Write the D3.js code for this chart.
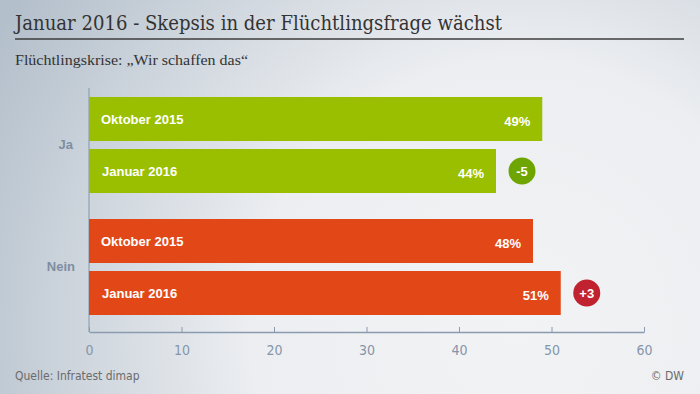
<!DOCTYPE html>
<html>
<head>
<meta charset="utf-8">
<script src="https://cdn.jsdelivr.net/npm/d3@7"></script>
<style>
  body { margin: 0; padding: 0; }
  svg { display: block; }
</style>
</head>
<body>
<svg id="chart" width="700" height="394"></svg>
<script>
// chart data
const groups = ["Ja", "Nein"];
const periods = ["Oktober 2015", "Januar 2016"];
const jaValues = [49, 44];
const neinValues = [48, 51];
const changes = ["-5", "+3"];
const xTicks = [0, 10, 20, 30, 40, 50, 60];

const svg = d3.select("#chart");
const W = 700, H = 394;

// background gradient
const defs = svg.append("defs");
const grad = defs.append("radialGradient")
    .attr("id", "bg")
    .attr("gradientUnits", "userSpaceOnUse")
    .attr("cx", 520).attr("cy", 330).attr("r", 600);
grad.append("stop").attr("offset", "0%").attr("stop-color", "#f2f3f5");
grad.append("stop").attr("offset", "45%").attr("stop-color", "#eceef1");
grad.append("stop").attr("offset", "100%").attr("stop-color", "#b3bfcb");
svg.append("rect")
    .attr("width", W).attr("height", H)
    .attr("fill", "url(#bg)");

// title
svg.append("text")
    .attr("x", 15).attr("y", 30)
    .attr("font-family", "'DejaVu Serif', 'Liberation Serif', serif")
    .attr("font-size", 20)
    .attr("fill", "#333")
    .attr("textLength", 487)
    .attr("lengthAdjust", "spacingAndGlyphs")
    .text("Januar 2016 - Skepsis in der Flüchtlingsfrage wächst");

svg.append("line")
    .attr("x1", 15).attr("x2", 684)
    .attr("y1", 39).attr("y2", 39)
    .attr("stroke", "#3c3c3c")
    .attr("stroke-width", 1.5);

svg.append("text")
    .attr("x", 15).attr("y", 65)
    .attr("font-family", "'Liberation Serif', serif")
    .attr("font-size", 14.5)
    .attr("fill", "#333")
    .attr("textLength", 233)
    .attr("lengthAdjust", "spacingAndGlyphs")
    .text("Flüchtlingskrise: „Wir schaffen das“");

// scales
const x = d3.scaleLinear().domain([0, 60]).range([89, 644]);

const rows = [
    {group: "Ja", period: periods[0], value: jaValues[0], color: "#99bf00"},
    {group: "Ja", period: periods[1], value: jaValues[1], color: "#99bf00", change: changes[0], cColor: "#6ea500"},
    {group: "Nein", period: periods[0], value: neinValues[0], color: "#e24817"},
    {group: "Nein", period: periods[1], value: neinValues[1], color: "#e24817", change: changes[1], cColor: "#c0222f"}
];

const yGroup = d3.scaleBand().domain(groups).range([84, 328]).paddingInner(26 / 122).paddingOuter(13 / 122);
const yInner = d3.scaleBand().domain(periods).range([0, yGroup.bandwidth()]).paddingInner(8 / 52).paddingOuter(0);

// axis line (left)
svg.append("line")
    .attr("x1", 89).attr("x2", 89)
    .attr("y1", 88).attr("y2", 332)
    .attr("stroke", "#8496aa")
    .attr("stroke-width", 1);

// bottom axis
const xAxis = d3.axisBottom(x)
    .tickValues(xTicks)
    .tickSizeInner(-5)
    .tickSizeOuter(0)
    .tickPadding(13);

const ax = svg.append("g")
    .attr("transform", "translate(0,332)")
    .call(xAxis);
ax.select(".domain").attr("stroke", "#8a9bb0").attr("stroke-width", 1.5);
ax.selectAll(".tick line").attr("stroke", "#8a9bb0");
ax.selectAll(".tick text")
    .attr("font-family", "'Liberation Sans Narrow', 'DejaVu Sans Condensed', sans-serif")
    .attr("font-size", 14)
    .attr("fill", "#8596aa");

// group labels
svg.selectAll(".group-label")
    .data(groups).enter()
    .append("text")
    .attr("class", "group-label")
    .attr("x", d => d === "Ja" ? 73 : 75)
    .attr("y", d => yGroup(d) + yGroup.bandwidth() / 2 - 1)
    .attr("dy", "0.35em")
    .attr("text-anchor", "end")
    .attr("font-family", "'Liberation Sans', Arial, sans-serif")
    .attr("font-weight", "bold")
    .attr("font-size", 13)
    .attr("fill", "#7e8ea2")
    .text(d => d);

// bars
const barG = svg.selectAll(".bar-group")
    .data(rows).enter()
    .append("g")
    .attr("class", "bar-group")
    .attr("transform", d => "translate(0," + (yGroup(d.group) + yInner(d.period)) + ")");

barG.append("rect")
    .attr("x", x(0))
    .attr("y", 0)
    .attr("width", d => x(d.value) - x(0))
    .attr("height", yInner.bandwidth())
    .attr("fill", d => d.color);

barG.append("text")
    .attr("x", d => d.period === periods[0] ? 101 : 102)
    .attr("y", yInner.bandwidth() / 2)
    .attr("dy", "0.35em")
    .attr("font-family", "'Liberation Sans', Arial, sans-serif")
    .attr("font-weight", "bold")
    .attr("font-size", 13)
    .attr("fill", "#fff")
    .text(d => d.period);

barG.append("text")
    .attr("x", d => x(d.value) - 12)
    .attr("y", yInner.bandwidth() / 2 + 2)
    .attr("dy", "0.35em")
    .attr("text-anchor", "end")
    .attr("font-family", "'Liberation Sans', Arial, sans-serif")
    .attr("font-weight", "bold")
    .attr("font-size", 13)
    .attr("fill", "#fff")
    .text(d => d.value + "%");

// change circles
const chg = barG.filter(d => d.change);
chg.append("circle")
    .attr("cx", d => x(d.value) + 26)
    .attr("cy", yInner.bandwidth() / 2)
    .attr("r", 13.5)
    .attr("fill", d => d.cColor);
chg.append("text")
    .attr("x", d => x(d.value) + 26)
    .attr("y", yInner.bandwidth() / 2)
    .attr("dy", "0.35em")
    .attr("text-anchor", "middle")
    .attr("font-family", "'Liberation Sans', Arial, sans-serif")
    .attr("font-weight", "bold")
    .attr("font-size", 13)
    .attr("fill", "#fff")
    .text(d => d.change);

// footer
svg.append("text")
    .attr("x", 15).attr("y", 380)
    .attr("font-family", "'Liberation Sans Narrow', 'DejaVu Sans Condensed', sans-serif")
    .attr("font-size", 12)
    .attr("fill", "#6b6b6b")
    .text("Quelle: Infratest dimap");

svg.append("text")
    .attr("x", 684).attr("y", 380)
    .attr("text-anchor", "end")
    .attr("font-family", "'Liberation Sans Narrow', 'DejaVu Sans Condensed', sans-serif")
    .attr("font-size", 12)
    .attr("fill", "#6b6b6b")
    .text("© DW");
</script>
</body>
</html>
